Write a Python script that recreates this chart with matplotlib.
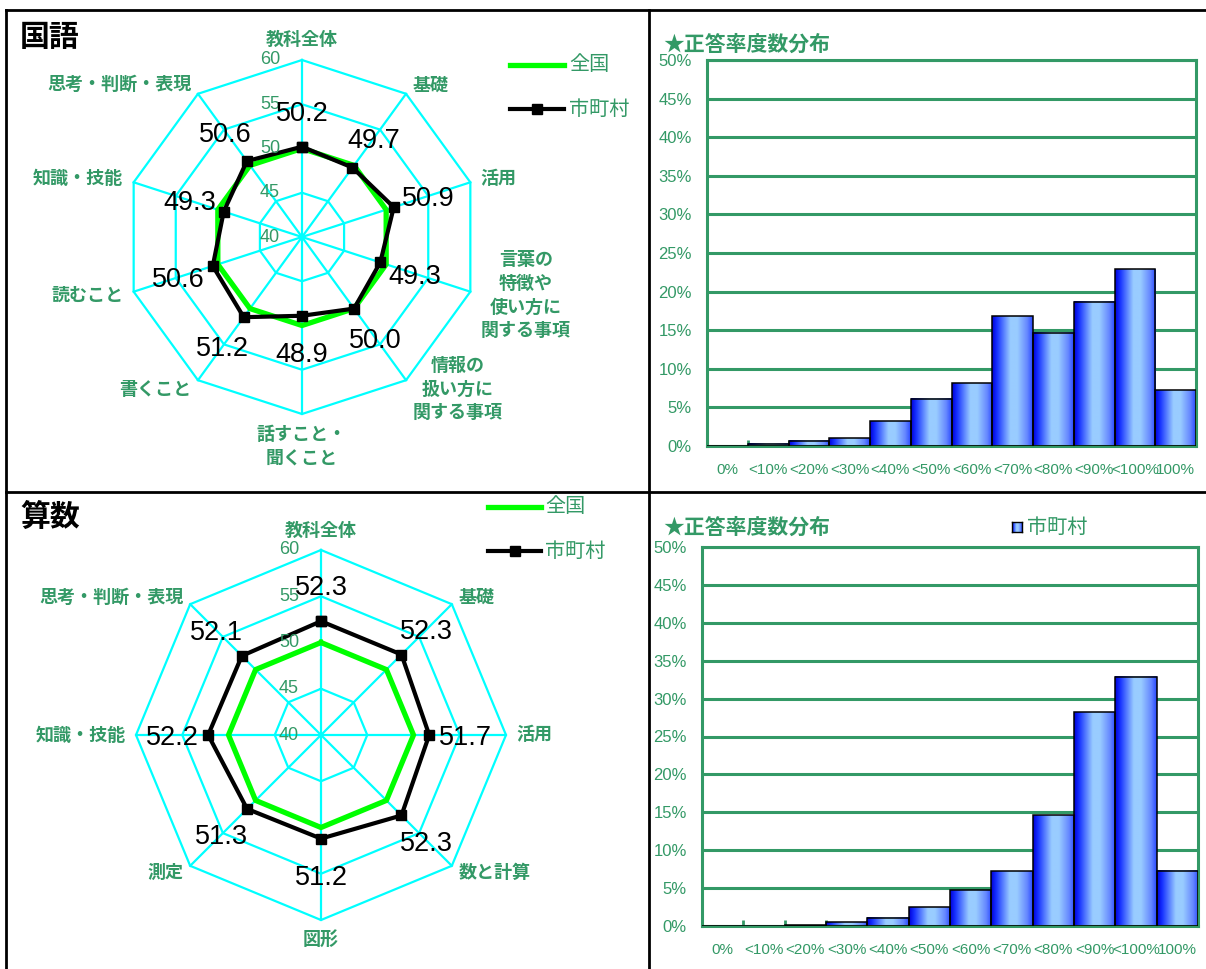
import numpy as np
import matplotlib
matplotlib.use('Agg')
import matplotlib.pyplot as plt
from matplotlib.colors import LinearSegmentedColormap
from matplotlib.lines import Line2D

W, H, DPI = 1206, 969, 100

JP = ['Noto Sans CJK JP', 'DejaVu Sans']
NUM = ['Liberation Sans', 'DejaVu Sans']

GREEN_TXT = '#339966'
CYAN = '#00FFFF'
LIME = '#00FF00'

# ---- 国語 ----
jp_axes = ['教科全体', '基礎', '活用', '言葉の\n特徴や\n使い方に\n関する事項',
           '情報の\n扱い方に\n関する事項', '話すこと・\n聞くこと', '書くこと',
           '読むこと', '知識・技能', '思考・判断・表現']
jp_local = [50.2, 49.7, 50.9, 49.3, 50.0, 48.9, 51.2, 50.6, 49.3, 50.6]
jp_national = [50.0, 50.0, 50.0, 50.0, 50.0, 50.0, 50.0, 50.0, 50.0, 50.0]

# ---- 算数 ----
math_axes = ['教科全体', '基礎', '活用', '数と計算', '図形', '測定',
             '知識・技能', '思考・判断・表現']
math_local = [52.3, 52.3, 51.7, 52.3, 51.2, 51.3, 52.2, 52.1]
math_national = [50.0, 50.0, 50.0, 50.0, 50.0, 50.0, 50.0, 50.0]

radar_ticks = [40, 45, 50, 55, 60]

# ---- 正答率度数分布 (%) ----
bins = ['0%', '<10%', '<20%', '<30%', '<40%', '<50%', '<60%', '<70%',
        '<80%', '<90%', '<100%', '100%']
jp_dist = [0.0, 0.3, 0.7, 1.0, 3.2, 6.1, 8.1, 16.8, 14.7, 18.7, 22.9, 7.2]
math_dist = [0.0, 0.0, 0.1, 0.5, 1.1, 2.5, 4.7, 7.2, 14.6, 28.2, 32.9, 7.3]
dist_ticks = [0, 5, 10, 15, 20, 25, 30, 35, 40, 45, 50]

BAR_CMAP = LinearSegmentedColormap.from_list(
    'bar', [(0.0, '#0000D8'), (0.12, '#1530FF'), (0.45, '#99CCFF'),
            (0.62, '#99CCFF'), (0.86, '#6688FF'), (1.0, '#2848FF')])
GRAD = np.linspace(0, 1, 256).reshape(1, -1)

fig = plt.figure(figsize=(W / DPI, H / DPI), dpi=DPI)
fig.patch.set_facecolor('white')


def fx(x):
    return x / W


def fy(y):
    return 1 - y / H


def radar(cx, cy, R, labels, local, national, pad=11):
    ax = fig.add_axes([fx(cx - R), fy(cy + R), 2 * R / W, 2 * R / H],
                      projection='polar')
    n = len(labels)
    theta = np.arange(n) * 2 * np.pi / n
    ax.set_theta_zero_location('N')
    ax.set_theta_direction(-1)
    ax.set_ylim(radar_ticks[0], radar_ticks[-1])
    ax.grid(False)
    ax.set_xticks([])
    ax.set_yticks([])
    ax.spines['polar'].set_visible(False)
    ax.patch.set_visible(False)

    closed = np.append(theta, theta[0])
    for lv in radar_ticks[1:]:
        ax.plot(closed, [lv] * (n + 1), color=CYAN, lw=1.6, clip_on=False,
                zorder=1)
    for t in theta:
        ax.plot([t, t], [radar_ticks[0], radar_ticks[-1]], color=CYAN, lw=1.6,
                clip_on=False, zorder=1)

    ax.plot(closed, np.append(national, national[0]), color=LIME, lw=3.8,
            clip_on=False, zorder=2, solid_joinstyle='miter')
    ax.plot(closed, np.append(local, local[0]), color='black', lw=3.0,
            marker='s', ms=7.5, clip_on=False, zorder=3)

    # scale labels along the top spoke
    for lv in radar_ticks:
        ax.annotate(str(lv), xy=(0, lv), xytext=(-22, 0),
                    textcoords='offset pixels', ha='right', va='center',
                    fontsize=13, color=GREEN_TXT, family=NUM, zorder=4,
                    annotation_clip=False)

    # axis names
    for t, name in zip(theta, labels):
        s, c = np.sin(t), np.cos(t)
        if abs(s) < 0.1:
            ha = 'center'
            va = 'bottom' if c > 0 else 'top'
        else:
            ha = 'left' if s > 0 else 'right'
            va = 'center'
        ax.annotate(name, xy=(t, radar_ticks[-1]), xytext=(pad * s, pad * c),
                    textcoords='offset pixels', ha=ha, va=va, fontsize=13,
                    fontweight='bold', color=GREEN_TXT, family=JP,
                    multialignment='center', linespacing=1.3,
                    annotation_clip=False)

    # value labels
    for t, v in zip(theta, local):
        s, c = np.sin(t), np.cos(t)
        ax.annotate(f'{v:.1f}', xy=(t, v), xytext=(36 * s, 36 * c),
                    textcoords='offset pixels', ha='center',
                    va='center_baseline', fontsize=19.5, color='black',
                    family=NUM, zorder=5, annotation_clip=False)
    return ax


def radar_legend(x0, x1, tx, y_nat, y_loc):
    fig.add_artist(Line2D([fx(x0), fx(x1)], [fy(y_nat), fy(y_nat)],
                          color=LIME, lw=3.8, transform=fig.transFigure))
    fig.text(fx(tx), fy(y_nat), '全国', ha='left', va='center',
             fontsize=14.5, color=GREEN_TXT, family=JP)
    fig.add_artist(Line2D([fx(x0), fx(x1)], [fy(y_loc), fy(y_loc)],
                          color='black', lw=3.0, transform=fig.transFigure))
    fig.add_artist(Line2D([fx((x0 + x1) / 2)], [fy(y_loc)], color='black',
                          marker='s', ms=7.5, lw=0,
                          transform=fig.transFigure))
    fig.text(fx(tx), fy(y_loc), '市町村', ha='left', va='center',
             fontsize=14.5, color=GREEN_TXT, family=JP)


def histogram(x0, y0, x1, y1, values):
    ax = fig.add_axes([fx(x0), fy(y1), (x1 - x0) / W, (y1 - y0) / H])
    xs = np.arange(len(bins))
    for x, v in zip(xs, values):
        if v > 0:
            ax.imshow(GRAD, extent=(x - 0.5, x + 0.5, 0, v), aspect='auto',
                      cmap=BAR_CMAP, interpolation='bilinear', zorder=2)
    ax.bar(xs, values, width=1.0, facecolor='none', edgecolor='black',
           lw=1.1, zorder=3)
    ax.set_xlim(-0.5, len(bins) - 0.5)
    ax.set_ylim(dist_ticks[0], dist_ticks[-1])
    ax.set_yticks(dist_ticks)
    ax.set_yticklabels([f'{v}%' for v in dist_ticks])
    ax.set_xticks(xs)
    ax.set_xticklabels(bins)
    ax.set_xticks(xs[:-1] + 0.5, minor=True)
    ax.tick_params(axis='y', length=0, pad=11, labelsize=12,
                   labelcolor=GREEN_TXT)
    ax.tick_params(axis='x', which='major', length=0, pad=12, labelsize=11,
                   labelcolor=GREEN_TXT)
    ax.tick_params(axis='x', which='minor', direction='in', length=4,
                   width=2, color='#339966')
    for lab in ax.get_xticklabels() + ax.get_yticklabels():
        lab.set_family(NUM)
    ax.set_axisbelow(True)
    ax.grid(axis='y', color='#339966', lw=2.2, zorder=0)
    for sp in ax.spines.values():
        sp.set_color('#339966')
        sp.set_linewidth(2.2)
    return ax


# radar charts
radar(302, 237, 177, jp_axes, jp_local, jp_national, pad=11)
radar_legend(510, 564, 569, 65, 109)
radar(321, 735, 185, math_axes, math_local, math_national, pad=10)
radar_legend(488, 541, 545, 507, 551)

fig.text(fx(20), fy(37), '国語', ha='left', va='center', fontsize=21.5,
         fontweight='bold', color='black', family=JP)
fig.text(fx(20), fy(517), '算数', ha='left', va='center', fontsize=21.5,
         fontweight='bold', color='black', family=JP)

# distributions
histogram(707, 60, 1196, 446, jp_dist)
histogram(702, 547, 1198, 926, math_dist)

for ty in (44, 527):
    fig.text(fx(663), fy(ty), '★正答率度数分布', ha='left', va='center',
             fontsize=15, fontweight='bold', color=GREEN_TXT, family=JP)

# legend key for the lower distribution
key = fig.add_axes([fx(1012), fy(532), 10 / W, 10 / H])
key.imshow(GRAD, aspect='auto', cmap=BAR_CMAP, interpolation='bilinear')
key.set_xticks([])
key.set_yticks([])
for sp in key.spines.values():
    sp.set_color('black')
    sp.set_linewidth(1.0)
fig.text(fx(1027), fy(527), '市町村', ha='left', va='center', fontsize=14.5,
         color=GREEN_TXT, family=JP)

# panel frame
frame_kw = dict(color='black', lw=2.0, transform=fig.transFigure)
fig.add_artist(Line2D([fx(6), 1], [fy(10), fy(10)], **frame_kw))
fig.add_artist(Line2D([fx(6), fx(6)], [fy(10), 0], **frame_kw))
fig.add_artist(Line2D([fx(649), fx(649)], [fy(10), 0], **frame_kw))
fig.add_artist(Line2D([fx(6), 1], [fy(492), fy(492)], **frame_kw))

fig.savefig('out.png', dpi=DPI, facecolor='white')
